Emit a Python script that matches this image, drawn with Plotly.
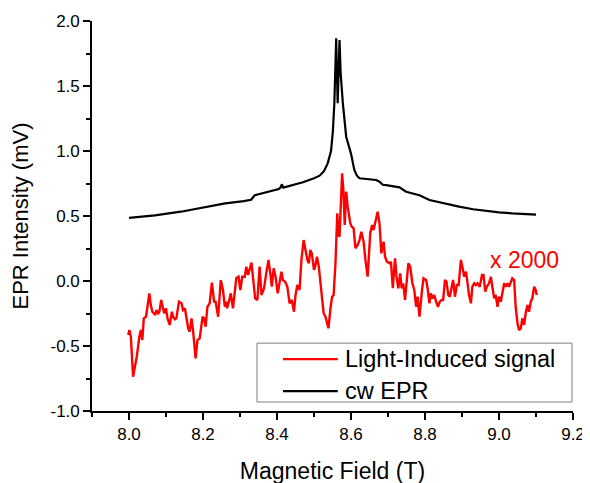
import plotly.graph_objects as go

# ---- Data ----
field_cw = [8.000, 8.070, 8.140, 8.200, 8.260, 8.310, 8.330, 8.340, 8.380, 8.405, 8.410,
            8.413, 8.417, 8.440, 8.470, 8.500, 8.515, 8.527, 8.537, 8.546, 8.551,
            8.555, 8.558, 8.560, 8.562, 8.564, 8.567, 8.569, 8.572, 8.578, 8.587,
            8.600, 8.609, 8.616, 8.623, 8.645, 8.668, 8.677, 8.686, 8.695, 8.731,
            8.749, 8.785, 8.812, 8.850, 8.892, 8.930, 8.964, 9.000, 9.036, 9.070, 9.100]
signal_cw = [0.485, 0.505, 0.533, 0.565, 0.597, 0.615, 0.625, 0.660, 0.690, 0.708, 0.720,
             0.744, 0.718, 0.735, 0.760, 0.790, 0.810, 0.845, 0.905, 1.000, 1.150,
             1.367, 1.650, 1.867, 1.600, 1.367, 1.650, 1.854, 1.600, 1.367, 1.110,
             0.980, 0.854, 0.810, 0.790, 0.785, 0.777, 0.764, 0.740, 0.738, 0.720,
             0.687, 0.660, 0.623, 0.598, 0.572, 0.552, 0.538, 0.528, 0.520, 0.514, 0.510]

field_li = [7.998, 8.001, 8.005, 8.011, 8.016, 8.021, 8.028, 8.032, 8.036, 8.040,
            8.046, 8.049, 8.055, 8.059, 8.063, 8.067, 8.071, 8.074, 8.079, 8.082,
            8.087, 8.091, 8.095, 8.100, 8.104, 8.110, 8.116, 8.119, 8.124, 8.128,
            8.135, 8.142, 8.146, 8.151, 8.160, 8.164, 8.169, 8.173, 8.180, 8.185,
            8.191, 8.199, 8.203, 8.207, 8.212, 8.218, 8.224, 8.230, 8.234, 8.241,
            8.248, 8.254, 8.259, 8.263, 8.265, 8.270, 8.275, 8.281, 8.286, 8.290,
            8.296, 8.301, 8.306, 8.313, 8.317, 8.322, 8.331, 8.335, 8.341, 8.347,
            8.353, 8.358, 8.365, 8.371, 8.377, 8.383, 8.386, 8.391, 8.396, 8.402,
            8.412, 8.416, 8.422, 8.428, 8.434, 8.440, 8.446, 8.450, 8.455, 8.461,
            8.466, 8.472, 8.477, 8.482, 8.486, 8.490, 8.494, 8.500, 8.503, 8.508,
            8.513, 8.519, 8.526, 8.531, 8.535, 8.539, 8.545, 8.549, 8.553, 8.558,
            8.563, 8.566, 8.569, 8.572, 8.576, 8.580, 8.583, 8.587, 8.591, 8.598,
            8.602, 8.607, 8.612, 8.618, 8.623, 8.628, 8.634, 8.639, 8.645, 8.652,
            8.657, 8.661, 8.666, 8.672, 8.677, 8.682, 8.688, 8.692, 8.697, 8.704,
            8.708, 8.713, 8.719, 8.723, 8.728, 8.733, 8.737, 8.741, 8.746, 8.750,
            8.755, 8.760, 8.766, 8.771, 8.776, 8.780, 8.785, 8.792, 8.796, 8.803,
            8.807, 8.812, 8.816, 8.820, 8.825, 8.830, 8.835, 8.840, 8.845, 8.849,
            8.854, 8.858, 8.863, 8.867, 8.872, 8.876, 8.881, 8.886, 8.891, 8.897,
            8.901, 8.906, 8.911, 8.915, 8.919, 8.924, 8.928, 8.933, 8.937, 8.942,
            8.948, 8.954, 8.958, 8.963, 8.967, 8.973, 8.978, 8.982, 8.987, 8.991,
            8.996, 9.000, 9.005, 9.009, 9.014, 9.018, 9.023, 9.027, 9.032, 9.036,
            9.041, 9.045, 9.050, 9.054, 9.059, 9.063, 9.068, 9.072, 9.077, 9.081,
            9.086, 9.090, 9.095, 9.099, 9.102]
signal_li = [-0.415, -0.377, -0.428, -0.736, -0.659, -0.582, -0.428, -0.377, -0.454, -0.287,
             -0.275, -0.223, -0.095, -0.185, -0.236, -0.248, -0.262, -0.223, -0.248, -0.236,
             -0.146, -0.198, -0.248, -0.210, -0.287, -0.338, -0.236, -0.275, -0.295, -0.287,
             -0.159, -0.172, -0.223, -0.210, -0.364, -0.390, -0.287, -0.377, -0.595, -0.454,
             -0.441, -0.275, -0.287, -0.352, -0.198, -0.172, -0.013, -0.159, -0.159, -0.275,
             0.008, -0.069, -0.198, -0.159, -0.210, -0.159, -0.095, -0.210, -0.095, 0.021,
             0.033, -0.069, 0.033, 0.033, 0.110, 0.046, 0.141, 0.021, -0.133, -0.146,
             0.110, -0.108, -0.056, 0.059, 0.162, 0.033, -0.044, 0.098, 0.033, -0.095,
             0.072, 0.008, -0.005, -0.044, -0.172, -0.146, -0.236, -0.108, -0.031, -0.069,
             0.162, 0.315, 0.225, 0.162, 0.136, 0.238, 0.213, 0.085, 0.110, 0.187,
             0.110, -0.069, -0.248, -0.275, -0.325, -0.364, -0.198, -0.121, -0.108, 0.136,
             0.521, 0.354, 0.341, 0.546, 0.828, 0.675, 0.431, 0.687, 0.572, 0.444,
             0.418, 0.405, 0.252, 0.277, 0.315, 0.379, 0.302, 0.162, 0.033, 0.367,
             0.431, 0.392, 0.456, 0.533, 0.444, 0.213, 0.302, 0.187, 0.148, 0.136,
             0.148, -0.056, 0.175, 0.033, -0.056, 0.059, -0.056, -0.018, -0.146, 0.008,
             0.136, 0.110, -0.018, -0.069, -0.198, -0.121, -0.275, -0.069, 0.021, 0.008,
             -0.056, -0.172, -0.095, -0.133, -0.108, -0.159, -0.198, -0.159, -0.146, -0.146,
             0.008, -0.005, -0.108, -0.121, -0.044, 0.008, -0.121, -0.031, -0.031, 0.162,
             0.110, 0.033, 0.072, -0.018, -0.108, -0.172, -0.044, -0.018, -0.031, -0.018,
             -0.044, 0.046, 0.046, -0.082, -0.044, -0.018, 0.033, -0.044, -0.133, -0.108,
             -0.198, -0.121, -0.159, -0.095, -0.018, -0.044, -0.018, -0.044, -0.005, 0.021,
             0.008, -0.198, -0.325, -0.377, -0.364, -0.287, -0.338, -0.248, -0.185, -0.236,
             -0.159, -0.133, -0.044, -0.069, -0.108]

x_ticks = [8.0, 8.2, 8.4, 8.6, 8.8, 9.0, 9.2]
x_ticklabels = ["8.0", "8.2", "8.4", "8.6", "8.8", "9.0", "9.2"]
y_ticks = [-1.0, -0.5, 0.0, 0.5, 1.0, 1.5, 2.0]
y_ticklabels = ["-1.0", "-0.5", "0.0", "0.5", "1.0", "1.5", "2.0"]

series_names = ["Light-Induced signal", "cw EPR"]
series_colors = ["#ff0000", "#000000"]

FONT = "Liberation Sans, Arial, sans-serif"

fig = go.Figure()
fig.add_trace(go.Scatter(x=field_li, y=signal_li, mode="lines", name=series_names[0],
                         line=dict(color=series_colors[0], width=2.4), showlegend=False))
fig.add_trace(go.Scatter(x=field_cw, y=signal_cw, mode="lines", name=series_names[1],
                         line=dict(color=series_colors[1], width=2.2), showlegend=False))

fig.add_annotation(x=9.07, y=0.165, xref="x", yref="y", text="x 2000", showarrow=False,
                   font=dict(family=FONT, size=23, color="#ff0000"))

# ---- Legend box (drawn in plot-area paper coordinates, like the original) ----
fig.add_shape(type="rect", xref="paper", yref="paper", x0=0.343, x1=0.998, y0=0.023, y1=0.174,
              line=dict(color="#808080", width=1), fillcolor="white", layer="above")
legend_rows_y = [0.133, 0.051]
for name, color, yy in zip(series_names, series_colors, legend_rows_y):
    fig.add_shape(type="line", xref="paper", yref="paper", x0=0.397, x1=0.511, y0=yy, y1=yy,
                  line=dict(color=color, width=2.2), layer="above")
    fig.add_annotation(xref="paper", yref="paper", x=0.522, y=yy, text=name, showarrow=False,
                       xanchor="left", yanchor="middle",
                       font=dict(family=FONT, size=23.5, color="black"))

axis_common = dict(showline=True, linecolor="black", linewidth=1.6, ticks="outside",
                   tickcolor="black", tickwidth=1.6, ticklen=7, showgrid=False, zeroline=False,
                   mirror=False, automargin=False,
                   tickfont=dict(family=FONT, size=17, color="black"))

fig.update_xaxes(range=[7.9, 9.2], tickvals=x_ticks, ticktext=x_ticklabels,
                 minor=dict(dtick=0.1, tick0=7.9, ticks="outside", ticklen=4, tickwidth=1.6,
                            tickcolor="black", showgrid=False),
                 title=dict(text="Magnetic Field (T)", standoff=20,
                            font=dict(family=FONT, size=23, color="black")),
                 **axis_common)
fig.update_yaxes(range=[-1.0, 2.0], tickvals=y_ticks, ticktext=y_ticklabels,
                 minor=dict(dtick=0.25, tick0=-1.0, ticks="outside", ticklen=4, tickwidth=1.6,
                            tickcolor="black", showgrid=False),
                 title=dict(text="\u00a0\u00a0\u00a0EPR Intensity (mV)", standoff=16,
                            font=dict(family=FONT, size=22, color="black")),
                 **axis_common)

# the page adds an 8px body margin, so the figure margins are offset by 8px
fig.update_layout(
    width=590, height=483,
    margin=dict(l=84, r=25, t=13, b=80),
    paper_bgcolor="white", plot_bgcolor="white",
    font=dict(family=FONT, color="black"),
    showlegend=False,
)

fig.write_html("out.html")
